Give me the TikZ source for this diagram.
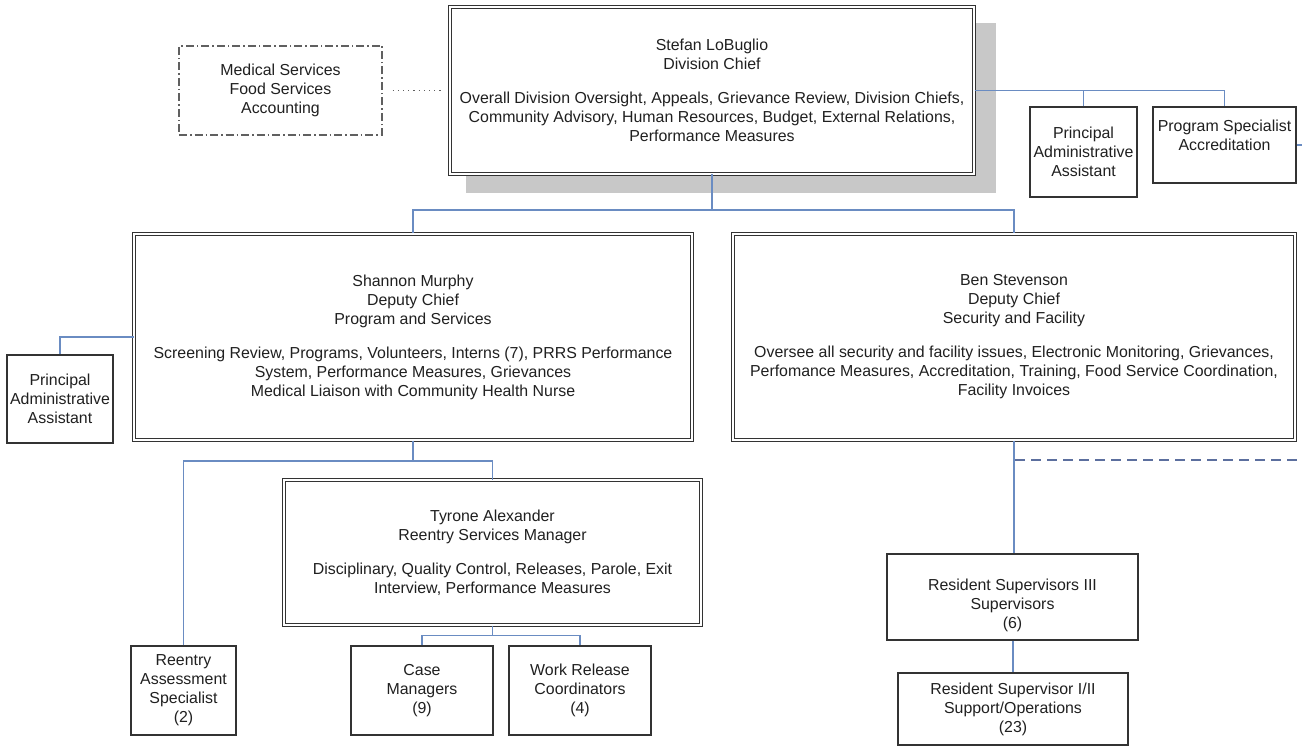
\documentclass[tikz,border=0pt]{standalone}
\usepackage{fontspec}
\setmainfont{Liberation Sans}
\newcommand\chartfont{\fontsize{15.9}{19}\selectfont}
\definecolor{boxc}{HTML}{333333}
\definecolor{txt}{HTML}{202020}
\definecolor{conn}{HTML}{6A8CC2}
\definecolor{dashc}{HTML}{5C6F9E}
\definecolor{shadowc}{HTML}{C8C8C8}
\definecolor{grayline}{HTML}{606060}
\tikzset{
  box/.style={draw=boxc, line width=1.1pt, rectangle, inner sep=0pt, align=center,
              fill=white, text=txt, font=\chartfont},
  dbox/.style={box, line width=1pt, double=white, double distance=1.8pt},
  lbltext/.style={inner sep=0pt, align=center, text=txt, font=\chartfont},
  conline/.style={draw=conn, line width=1.4pt},
  dashline/.style={draw=dashc, line width=1.2pt, dash pattern=on 10pt off 6pt},
  dotline/.style={draw=grayline, line width=1.1pt, dash pattern=on 1.2pt off 4pt},
  dashdotbox/.style={box, draw=grayline, line width=1.2pt, dash pattern=on 8pt off 3pt on 1.5pt off 3pt}
}
\begin{document}
\begin{tikzpicture}[x=1pt,y=-1pt]
\useasboundingbox[fill=white] (0,0) rectangle (1302,746);

% shadow of the chief box
\fill[shadowc] (466,23) rectangle (996,193);

% nodes
\node[dbox, minimum width=524pt, minimum height=167pt] (stefan) at (712,90.5)
  {Stefan LoBuglio\\Division Chief\\[15pt]Overall Division Oversight, Appeals, Grievance Review, Division Chiefs,\\Community Advisory, Human Resources, Budget, External Relations,\\Performance Measures};

\node[dashdotbox, minimum width=203pt, minimum height=89pt] (medical) at (280.5,90.5)
  {Medical Services\\Food Services\\Accounting};

\node[box, minimum width=107pt, minimum height=90pt] (pa1) at (1083.5,152)
  {Principal\\Administrative\\Assistant};

\node[box, minimum width=143pt, minimum height=76pt] (ps) at (1224.5,145) {};
\node[lbltext] (pstext) at (1224.5,135.5) {Program Specialist\\Accreditation};

\node[dbox, minimum width=558pt, minimum height=206pt] (shannon) at (413,337)
  {Shannon Murphy\\Deputy Chief\\Program and Services\\[15pt]Screening Review, Programs, Volunteers, Interns (7), PRRS Performance\\System, Performance Measures, Grievances\\Medical Liaison with Community Health Nurse};

\node[dbox, minimum width=562pt, minimum height=206pt] (ben) at (1014,337)
  {Ben Stevenson\\Deputy Chief\\Security and Facility\\[15pt]Oversee all security and facility issues, Electronic Monitoring, Grievances,\\Perfomance Measures, Accreditation, Training, Food Service Coordination,\\Facility Invoices};

\node[box, minimum width=106pt, minimum height=88pt] (pa2) at (60,399)
  {Principal\\Administrative\\Assistant};

\node[dbox, minimum width=417pt, minimum height=145pt] (tyrone) at (492.5,552.5)
  {Tyrone Alexander\\Reentry Services Manager\\[15pt]Disciplinary, Quality Control, Releases, Parole, Exit\\Interview, Performance Measures};

\node[box, minimum width=105pt, minimum height=89pt] (reentry) at (183.5,690.5)
  {Reentry\\Assessment\\Specialist\\(2)};

\node[box, minimum width=142pt, minimum height=89pt] (case) at (422,690.5)
  {Case\\Managers\\(9)};

\node[box, minimum width=142pt, minimum height=89pt] (work) at (580,690.5)
  {Work Release\\Coordinators\\(4)};

\node[box, minimum width=251pt, minimum height=86pt] (rs3) at (1012.5,597) {};
\node[lbltext] (rs3text) at (1012.5,605) {Resident Supervisors III\\Supervisors\\(6)};

\node[box, minimum width=230pt, minimum height=72pt] (rs12) at (1013,709)
  {Resident Supervisor I/II\\Support/Operations\\(23)};

% coordinates for buses
\coordinate (busA) at (712,210);
\coordinate (busB) at (413,461);
\coordinate (busC) at (492.5,635.5);
\coordinate (psout) at (1302,145);
\coordinate (dashA) at (1015,460);
\coordinate (dashB) at (1302,460);

% connectors
\draw[conline] (stefan.south) -- (busA);
\draw[conline] (shannon.north) |- (busA) -| (ben.north);
\draw[conline] (stefan.east) -| (ps.north);
\draw[conline] (pa1.north) |- (stefan.east);
\draw[conline] (ps.east) -- (psout);
\draw[dotline, shorten <=10pt, shorten >=6pt] (medical.east) -- (stefan.west);
\draw[conline] (shannon.west) -| (pa2.north);
\draw[conline] (shannon.south) -- (busB);
\draw[conline] (reentry.north) |- (busB) -| (tyrone.north);
\draw[conline] (tyrone.south) -- (busC);
\draw[conline] (case.north) |- (busC) -| (work.north);
\draw[conline] (ben.south) -- (ben.south |- rs3.north);
\draw[conline] (rs3.south -| rs12.north) -- (rs12.north);
\draw[dashline] (dashA) -- (dashB);
\end{tikzpicture}
\end{document}
